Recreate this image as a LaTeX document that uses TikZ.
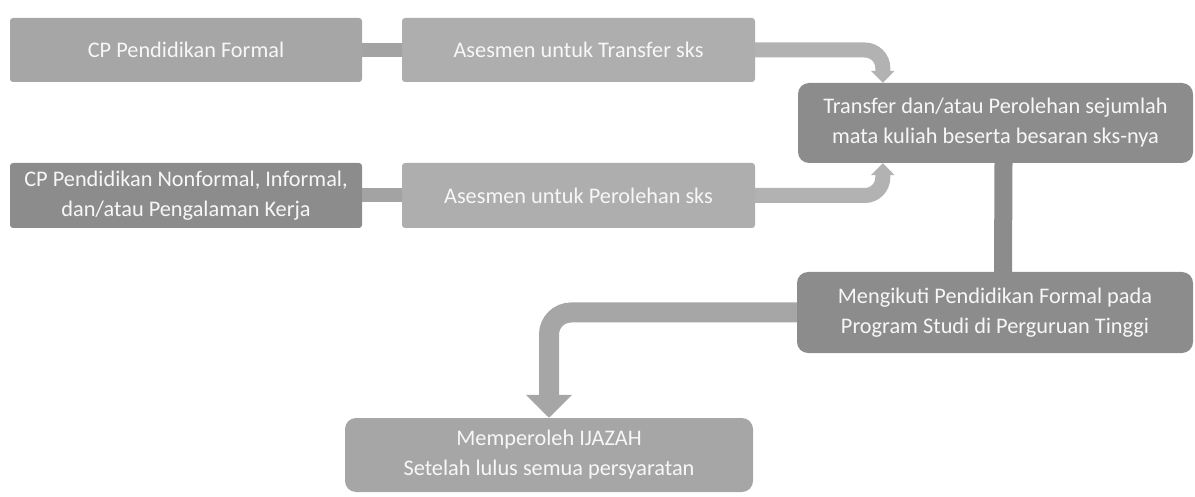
\documentclass[tikz,border=0pt]{standalone}
\usepackage{fontspec}
\setmainfont{Carlito}
\usepackage{xcolor}
\usepackage{tikz}
\usetikzlibrary{arrows.meta}
\definecolor{cpLight}{HTML}{A6A6A6}
\definecolor{cpPale}{HTML}{AEAEAE}
\definecolor{cpDark}{HTML}{8C8C8C}
\definecolor{cpArrow}{HTML}{B2B2B2}
\definecolor{cpBand}{HTML}{A3A3A3}
\definecolor{cpText}{HTML}{F7F7F7}
\tikzset{
  sbox/.style  ={rounded corners=3pt, align=center, inner sep=2pt, text=cpText, font=\fontsize{22.3}{30}\selectfont},
  rbox/.style  ={rounded corners=11pt, align=center, inner sep=2pt, text=cpText, font=\fontsize{22.3}{30}\selectfont},
  band/.style  ={line width=14pt, cpBand},
  bar/.style   ={line width=18pt, cpDark},
  garr/.style  ={line width=15pt, cpArrow, rounded corners=18pt, -{Triangle[width=23pt,length=12pt]}},
  bigarr/.style={line width=20pt, cpLight, rounded corners=22pt, -{Triangle[width=45pt,length=23pt]}},
}

\begin{document}
\begin{tikzpicture}[x=1pt,y=-1pt]
\useasboundingbox (0,0) rectangle (1195,497);
% ---- sources and assessments ----
\node[sbox,fill=cpLight,minimum width=352pt,minimum height=64pt] (formal)  at (186,50)    {CP Pendidikan Formal};
\node[sbox,fill=cpPale, minimum width=353pt,minimum height=64pt] (asTrans) at (578.5,50)  {Asesmen untuk Transfer sks};
\node[sbox,fill=cpDark, minimum width=352pt,minimum height=65pt] (nonform) at (186,195.5) {CP Pendidikan Nonformal, Informal,\\dan/atau Pengalaman Kerja};
\node[sbox,fill=cpPale, minimum width=353pt,minimum height=65pt] (asPerol) at (578.5,195.5) {Asesmen untuk Perolehan sks};

\draw[band] (formal)--(asTrans);
\draw[band] (nonform)--(asPerol);

% ---- right column ----
\node[rbox,fill=cpDark,minimum width=395pt,minimum height=80pt] (transfer) at (995.5,123) {Transfer dan/atau Perolehan sejumlah\\mata kuliah beserta besaran sks-nya};
\node[rbox,fill=cpDark,minimum width=396pt,minimum height=81pt] (kuliah)   at (995,312.5) {Mengikuti Pendidikan Formal pada\\Program Studi di Perguruan Tinggi};
\node[rbox,fill=cpLight,minimum width=408pt,minimum height=74pt] (ijazah)  at (549,455)   {Memperoleh IJAZAH\\Setelah lulus semua persyaratan};

\draw[garr] (asTrans.east) -| ([xshift=85pt]transfer.north west);
\draw[garr] (asPerol.east) -| ([xshift=85pt]transfer.south west);
\draw[bar] ([xshift=8pt]transfer.south) -- ([xshift=8pt]kuliah.north);
\draw[bigarr] (kuliah.west) -| (ijazah.north);
\end{tikzpicture}
\end{document}
